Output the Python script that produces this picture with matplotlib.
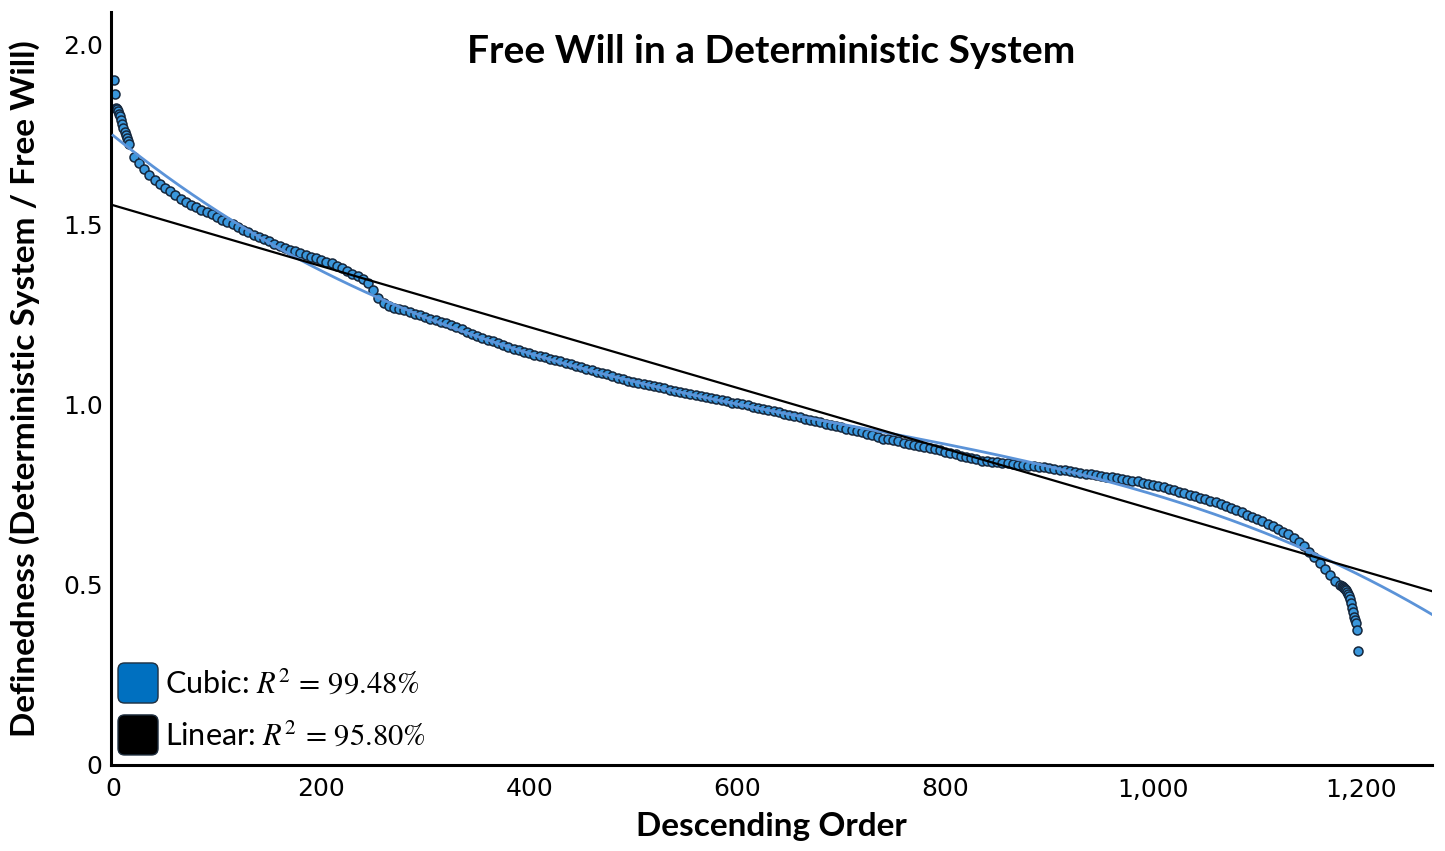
import numpy as np
import matplotlib
matplotlib.use("Agg")
import matplotlib.pyplot as plt
from matplotlib.patches import FancyBboxPatch

plt.rcParams['mathtext.fontset'] = 'stix'

# ranks 1..14 read one by one
head_rank = np.arange(1, 15)
head_vals = [1.900, 1.863, 1.823, 1.820, 1.815, 1.808, 1.800, 1.789, 1.778, 1.768,
             1.756, 1.748, 1.740, 1.732]

# ranks 15..1180, read every 5th rank
mid_rank = np.arange(15, 1181, 5)
mid_vals = [
    1.725, 1.688, 1.670, 1.655, 1.638, 1.624, 1.612, 1.602, 1.592, 1.582,
    1.571, 1.563, 1.555, 1.548, 1.541, 1.535, 1.529, 1.521, 1.514, 1.507,
    1.501, 1.494, 1.486, 1.478, 1.471, 1.465, 1.460, 1.454, 1.447, 1.441,
    1.435, 1.430, 1.426, 1.421, 1.416, 1.411, 1.406, 1.402, 1.397, 1.392,
    1.386, 1.379, 1.371, 1.363, 1.356, 1.348, 1.338, 1.318, 1.297, 1.281,
    1.273, 1.269, 1.266, 1.262, 1.257, 1.252, 1.248, 1.243, 1.239, 1.235,
    1.230, 1.226, 1.221, 1.215, 1.209, 1.203, 1.197, 1.191, 1.185, 1.181,
    1.177, 1.172, 1.167, 1.161, 1.156, 1.152, 1.147, 1.143, 1.139, 1.136,
    1.132, 1.128, 1.124, 1.120, 1.116, 1.112, 1.108, 1.104, 1.100, 1.096,
    1.092, 1.088, 1.084, 1.079, 1.075, 1.071, 1.067, 1.063, 1.060, 1.057,
    1.054, 1.051, 1.048, 1.045, 1.042, 1.039, 1.036, 1.033, 1.030, 1.027,
    1.024, 1.021, 1.018, 1.015, 1.012, 1.009, 1.006, 1.004, 1.001, 0.998,
    0.995, 0.992, 0.989, 0.986, 0.983, 0.979, 0.975, 0.971, 0.968, 0.965,
    0.961, 0.958, 0.954, 0.951, 0.947, 0.943, 0.940, 0.937, 0.933, 0.930,
    0.927, 0.923, 0.920, 0.915, 0.910, 0.906, 0.904, 0.902, 0.899, 0.895,
    0.891, 0.888, 0.885, 0.882, 0.879, 0.876, 0.873, 0.869, 0.866, 0.862,
    0.859, 0.855, 0.852, 0.848, 0.845, 0.843, 0.841, 0.840, 0.838, 0.837,
    0.836, 0.834, 0.833, 0.831, 0.830, 0.828, 0.826, 0.824, 0.822, 0.820,
    0.818, 0.816, 0.813, 0.811, 0.809, 0.807, 0.805, 0.802, 0.800, 0.798,
    0.796, 0.794, 0.791, 0.789, 0.787, 0.784, 0.781, 0.778, 0.775, 0.771,
    0.767, 0.763, 0.758, 0.754, 0.750, 0.746, 0.742, 0.738, 0.734, 0.729,
    0.724, 0.719, 0.713, 0.707, 0.701, 0.694, 0.688, 0.682, 0.676, 0.669,
    0.662, 0.655, 0.647, 0.640, 0.631, 0.620, 0.607, 0.592, 0.577, 0.562,
    0.544, 0.526, 0.512, 0.500,
]

# ranks 1181..1197 read one by one
tail_rank = np.arange(1181, 1198)
tail_vals = [0.498, 0.495, 0.491, 0.488, 0.485, 0.481, 0.476, 0.469, 0.461, 0.450,
             0.437, 0.424, 0.412, 0.403, 0.394, 0.375, 0.317]

x_ticks = [0, 200, 400, 600, 800, 1000, 1200]
x_labels = ['0', '200', '400', '600', '800', '1,000', '1,200']
y_ticks = [0, 0.5, 1.0, 1.5, 2.0]
y_labels = ['0', '0.5', '1.0', '1.5', '2.0']

x = np.concatenate([head_rank, mid_rank, tail_rank]).astype(float)
y = np.concatenate([head_vals, mid_vals, tail_vals])
# weight the every-5th samples so the fit behaves like the full data
w = np.concatenate([np.ones(len(head_rank)), np.full(len(mid_rank), np.sqrt(5)),
                    np.ones(len(tail_rank))])

cubic = np.polyfit(x, y, 3, w=w)
linear = np.polyfit(x, y, 1, w=w)

fig = plt.figure(figsize=(14.45, 8.51), dpi=100)
ax = fig.add_axes([111 / 1445, 86 / 851, 1321 / 1445, 753 / 851])

ax.scatter(x, y, s=42, facecolor='#3a97dc', edgecolor='#15263b', linewidth=1.1, zorder=2)

xs = np.linspace(0, 1268, 400)
ax.plot(xs, np.polyval(cubic, xs), color='#5b93d8', lw=2.0, zorder=3)
ax.plot(xs, np.polyval(linear, xs), color='black', lw=1.6, zorder=3)

ax.set_xlim(-2, 1268)
ax.set_ylim(0, 2.09)
ax.set_xticks(x_ticks)
ax.set_xticklabels(x_labels)
ax.set_yticks(y_ticks)
ax.set_yticklabels(y_labels)
ax.tick_params(length=0, labelsize=18)
ax.tick_params(axis='x', pad=9)
ax.tick_params(axis='y', pad=6)

for s in ['top', 'right']:
    ax.spines[s].set_visible(False)
for s in ['left', 'bottom']:
    ax.spines[s].set_linewidth(2.2)
    ax.spines[s].set_color('black')

ax.text(0.5, 0.947, 'Free Will in a Deterministic System', transform=ax.transAxes,
        ha='center', va='center', fontsize=28, fontweight='bold', family=['Lato', 'DejaVu Sans'])

ax.set_xlabel('Descending Order', fontsize=24, fontweight='bold', family=['Lato', 'DejaVu Sans'])
ax.xaxis.set_label_coords(0.5, -0.062)
ax.set_ylabel('Definedness (Deterministic System / Free Will)', fontsize=24, fontweight='bold',
              family=['Lato', 'DejaVu Sans'])
ax.yaxis.set_label_coords(-0.054, 0.5)

# legend swatches
aspect = 1321 / 753
for y0, col, label in [(0.0823, '#0070c0', 'Cubic: $R^2\\,=\\,99.48\\%$'),
                       (0.0133, 'black', 'Linear: $R^2\\,=\\,95.80\\%$')]:
    box = FancyBboxPatch((0.0053, y0), 0.0303, 0.0532, transform=ax.transAxes,
                         boxstyle='round,pad=0,rounding_size=0.005', mutation_aspect=aspect,
                         facecolor=col, edgecolor='#1f2f3f', linewidth=1.0, clip_on=False, zorder=4)
    ax.add_patch(box)
    ax.text(0.041, y0 + 0.0266, label, transform=ax.transAxes, ha='left', va='center',
            fontsize=22, family=['Lato', 'DejaVu Sans'], zorder=4)

fig.savefig('out.png', dpi=100)
